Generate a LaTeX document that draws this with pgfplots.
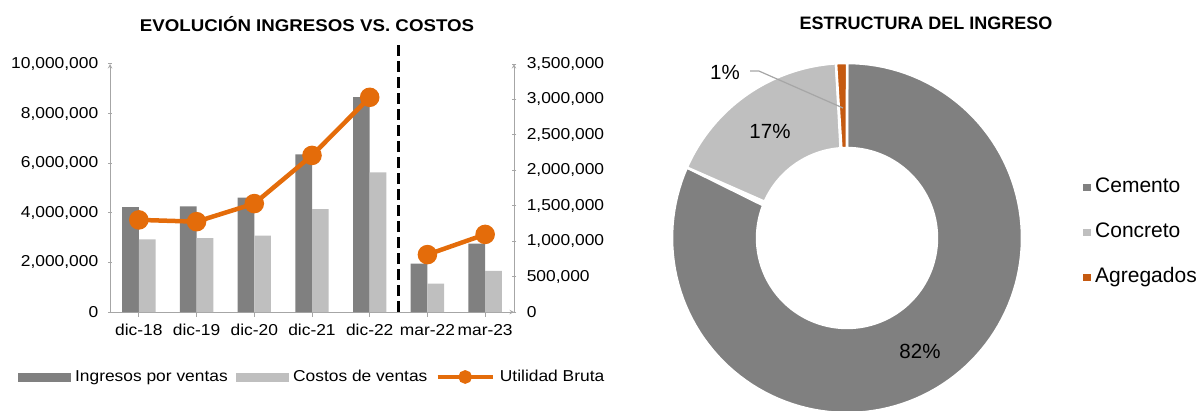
\documentclass[border=0pt]{standalone}
\usepackage{fontspec}
\setmainfont{Liberation Sans}
\newfontfamily\wide{Liberation Sans}[FakeStretch=1.1]
\usepackage{pgfplots}
\pgfplotsset{compat=1.18}

\definecolor{ingreso}{HTML}{808080}
\definecolor{costo}{HTML}{BFBFBF}
\definecolor{utilidad}{HTML}{E46C0A}
\definecolor{agreg}{HTML}{C55A11}
\definecolor{axisgray}{HTML}{A6A6A6}

% one donut slice between two angles (degrees), outer radius 1, inner 0.514
\newcommand\slice[3]{%
  \addplot[fill=#1, draw=white, line width=2.5pt, domain=0:2, samples=241,
    variable=\t, forget plot]
  ({(0.514+0.486*(\t<=1))*cos((\t<=1)*((#2)+((#3)-(#2))*\t)+(\t>1)*((#3)+((#2)-(#3))*(\t-1)))},
   {(0.514+0.486*(\t<=1))*sin((\t<=1)*((#2)+((#3)-(#2))*\t)+(\t>1)*((#3)+((#2)-(#3))*(\t-1)))})
  -- cycle;}

\pgfplotsset{
  leftchart/.style={
    at={(110pt,98pt)}, anchor=south west, scale only axis,
    width=404pt, height=248pt,
    xmin=-0.5, xmax=6.5, ymin=0,
    axis line style={-, draw=axisgray, line width=1pt},
    tick style={draw=axisgray, line width=1pt},
    tick align=outside, major tick length=4.5pt,
    tick label style={font=\wide\fontsize{15.8}{18}\selectfont},
    scaled y ticks=false,
    yticklabel style={/pgf/number format/fixed, /pgf/number format/1000 sep={,},
      /pgf/number format/assume math mode=true},
  },
}

\begin{document}
\begin{tikzpicture}
\useasboundingbox (0pt,0pt) rectangle (1198pt,410pt);

\node[font=\wide\bfseries\fontsize{17}{20}\selectfont] at (307pt,386pt) {EVOLUCIÓN INGRESOS VS. COSTOS};
\node[font=\bfseries\fontsize{18}{21}\selectfont] at (926pt,387pt) {ESTRUCTURA DEL INGRESO};

% bars, left axis
\begin{axis}[leftchart,
  ymax=10000000,
  axis y line=left, axis x line=bottom,
  xtick={0,1,2,3,4,5,6},
  xticklabels={dic-18,dic-19,dic-20,dic-21,dic-22,mar-22,mar-23},
  xticklabel style={yshift=-4pt},
  yticklabel style={xshift=-6pt},
  ytick={0,2000000,4000000,6000000,8000000,10000000},
  ybar, bar width=16.7pt,
]
\addplot[fill=ingreso, draw=none, bar shift=-8.35pt] coordinates {
  (0,4230000) (1,4255000) (2,4610000) (3,6360000) (4,8660000) (5,1950000) (6,2755000)};
\addplot[fill=costo, draw=none, bar shift=8.35pt] coordinates {
  (0,2930000) (1,2980000) (2,3080000) (3,4150000) (4,5630000) (5,1140000) (6,1660000)};
\end{axis}

% line, right axis
\begin{axis}[leftchart,
  ymax=3500000,
  axis y line=right, axis x line=none,
  yticklabel style={xshift=7pt},
  ytick={0,500000,1000000,1500000,2000000,2500000,3000000,3500000},
  clip=false, unbounded coords=jump,
  legend columns=-1,
  legend style={at={(0.5,-0.262)}, anchor=center, draw=none, fill=none,
    font=\wide\fontsize{15.8}{18}\selectfont,
    /tikz/every odd column/.append style={column sep=3pt},
    /tikz/every even column/.append style={column sep=6pt}},
]
\addplot[black, line width=3.5pt, dash pattern=on 11pt off 5pt, forget plot]
  coordinates {(4.5,0) (4.5,3796000)};
\addlegendimage{legend image code/.code={\fill[ingreso] (0pt,-4pt) rectangle (52pt,4pt);}}
\addlegendentry{Ingresos por ventas}
\addlegendimage{legend image code/.code={\fill[costo] (0pt,-4pt) rectangle (52pt,4pt);}}
\addlegendentry{Costos de ventas}
\addplot[utilidad, line width=4.5pt, mark=*, mark size=7.5pt,
  legend image code/.code={\draw[utilidad, line width=4.5pt] (0pt,0pt) -- (55pt,0pt);
    \fill[utilidad] (27.5pt,0pt) circle (4.5pt);}]
  coordinates {(0,1300000) (1,1275000) (2,1530000) (3,2210000) (4,3030000)
    (4.5,nan) (5,810000) (6,1095000)};
\addlegendentry{Utilidad Bruta}
\end{axis}

% donut: Cemento 81.6, Concreto 17.4, Agregados 1.0 (per cent)
\pgfmathsetmacro\aA{90}
\pgfmathsetmacro\aB{\aA-3.6*81.6}
\pgfmathsetmacro\aC{\aB-3.6*17.4}
\pgfmathsetmacro\aD{\aC-3.6*1.0}
\begin{axis}[
  at={(847pt,172pt)}, anchor=center, scale only axis,
  width=350pt, height=350pt,
  xmin=-1, xmax=1, ymin=-1, ymax=1,
  hide axis, clip=false,
  legend style={at={(1.166,0.517)}, anchor=west, draw=none, fill=none,
    font=\fontsize{21}{24}\selectfont, row sep=26pt,
    nodes={text height=15pt, text depth=4pt, inner sep=0pt},
    /tikz/every odd column/.append style={column sep=5pt}},
  legend cell align=left,
]
\slice{ingreso}{\aA}{\aB}
\slice{costo}{\aB}{\aC}
\slice{agreg}{\aC}{\aD}
\addlegendimage{legend image code/.code={\fill[ingreso] (0pt,-3.25pt) rectangle (6.5pt,3.25pt);}}
\addlegendimage{legend image code/.code={\fill[costo] (0pt,-3.25pt) rectangle (6.5pt,3.25pt);}}
\addlegendimage{legend image code/.code={\fill[agreg] (0pt,-3.25pt) rectangle (6.5pt,3.25pt);}}
\legend{Cemento, Concreto, Agregados}
\node[font=\fontsize{20.5}{24}\selectfont] at (axis cs:0.417,-0.646) {82\%};
\node[font=\fontsize{20.5}{24}\selectfont] at (axis cs:-0.44,0.611) {17\%};
\node[font=\fontsize{20.5}{24}\selectfont] at (axis cs:-0.697,0.946) {1\%};
\draw[axisgray, line width=1.2pt] (axis cs:-0.554,0.954) -- (axis cs:-0.503,0.954) -- (axis cs:-0.023,0.743);
\end{axis}
\end{tikzpicture}
\end{document}
